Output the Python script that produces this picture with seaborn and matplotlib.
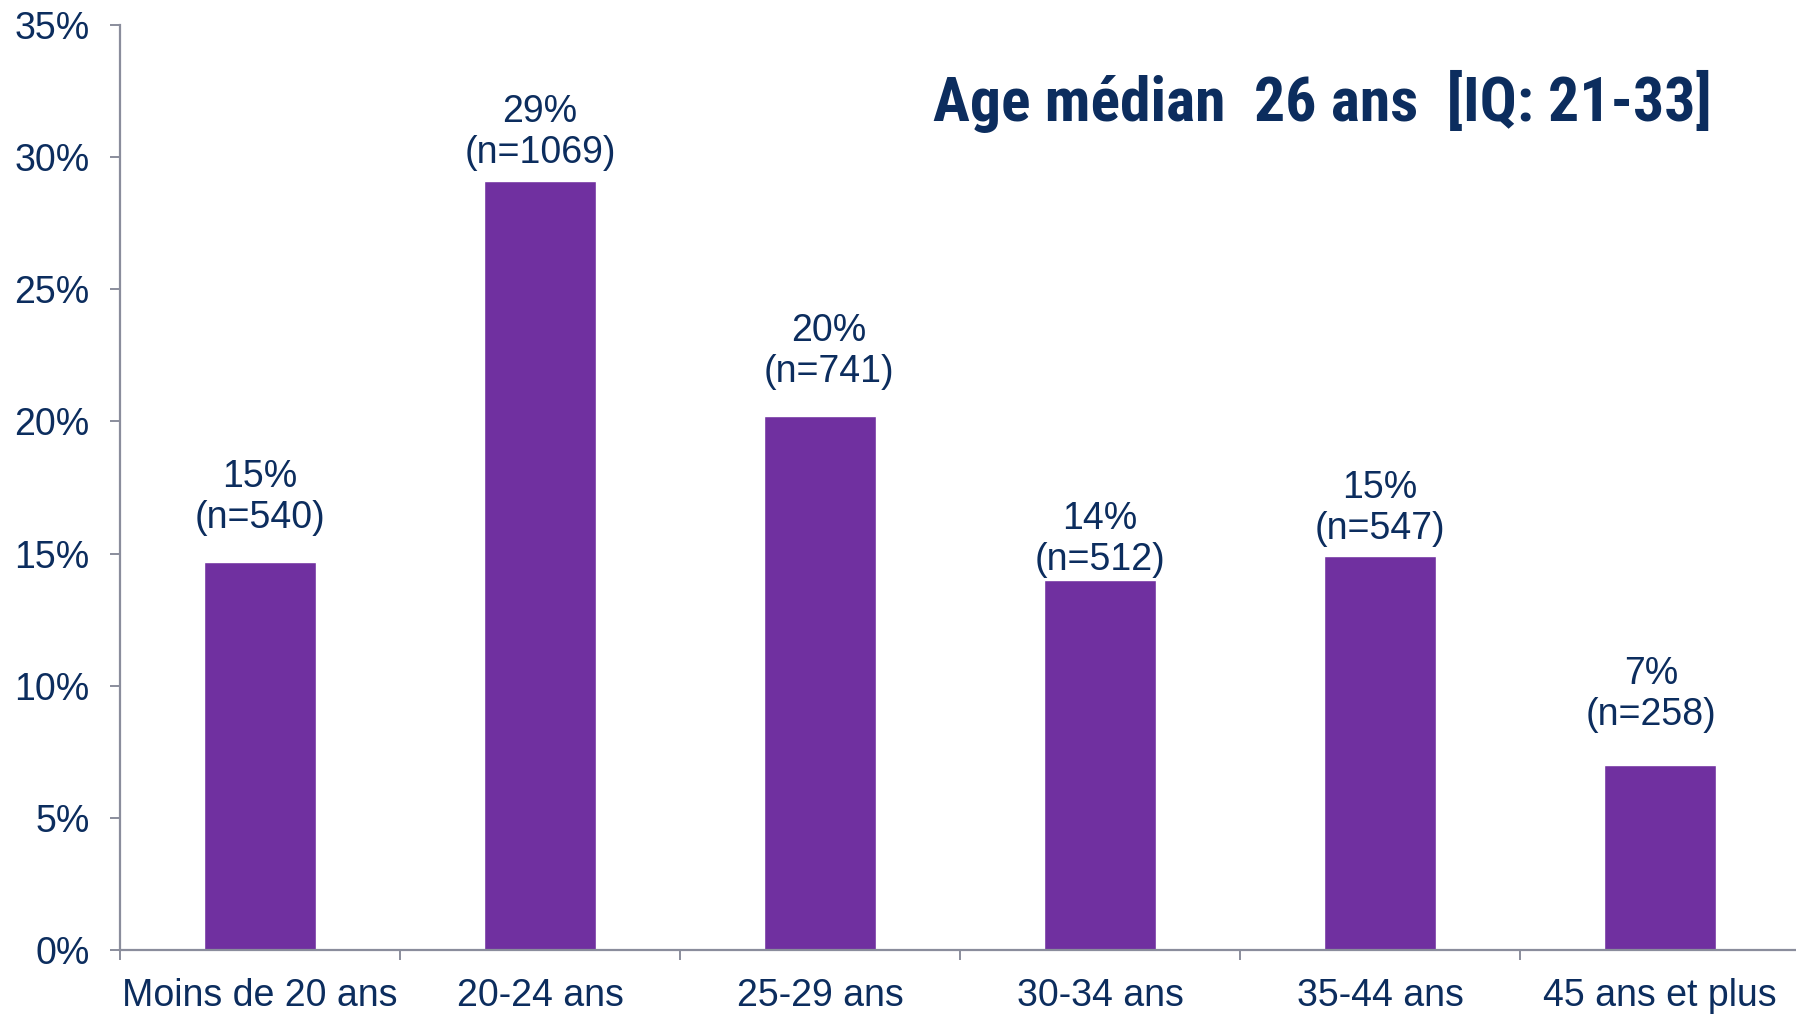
import matplotlib
matplotlib.use("Agg")
import matplotlib.pyplot as plt
import seaborn as sns
import pandas as pd
from matplotlib.ticker import FixedLocator, PercentFormatter
from matplotlib import font_manager

categories = ["Moins de 20 ans", "20-24 ans", "25-29 ans", "30-34 ans", "35-44 ans", "45 ans et plus"]
values = [14.7, 29.1, 20.2, 14.0, 14.9, 7.0]
pct_labels = ["15%", "29%", "20%", "14%", "15%", "7%"]
n_labels = ["(n=540)", "(n=1069)", "(n=741)", "(n=512)", "(n=547)", "(n=258)"]
y_ticks = [0, 5, 10, 15, 20, 25, 30, 35]
title = "Age médian  26 ans  [IQ: 21-33]"

# layout: label offsets (points) as placed in the original
label_dx = [0, 0, 6.6, 0, 0, -6.6]
label_dy = [18.2, 7.5, 19, 1.7, 6.6, 23.1]

NAVY = "#0C2D5E"
PURPLE = "#7030A0"
GREY = "#8A8D9C"

sns.set_theme(style="white")
plt.rcParams['font.family'] = ['Liberation Sans', 'DejaVu Sans']

installed = {f.name for f in font_manager.fontManager.ttflist}
narrow = None
for cand in ["Liberation Sans Narrow", "Roboto Condensed", "Open Sans Condensed", "Arial Narrow", "DejaVu Sans Condensed"]:
    if cand in installed:
        narrow = cand
        break

df = pd.DataFrame({"cat": categories, "val": values})

W, H = 1796, 1015
fig = plt.figure(figsize=(W / 100, H / 100), dpi=100)
ax = fig.add_axes([120 / W, (H - 950) / H, (1800 - 120) / W, (950 - 25) / H])

sns.barplot(data=df, x="cat", y="val", color=PURPLE, width=0.4, saturation=1, ax=ax)

ax.set_xlim(-0.5, 5.5)
ax.set_ylim(0, 35)
ax.yaxis.set_major_locator(FixedLocator(y_ticks))
ax.yaxis.set_major_formatter(PercentFormatter(decimals=0))
ax.set_xlabel("")
ax.set_ylabel("")

for s in ["top", "right"]:
    ax.spines[s].set_visible(False)
for s in ["left", "bottom"]:
    ax.spines[s].set_color(GREY)
    ax.spines[s].set_linewidth(1.6)

ax.tick_params(axis="y", which="major", direction="out", length=7.2, width=1.4,
               color=GREY, labelsize=27, labelcolor=NAVY, pad=14.5, left=True)
ax.tick_params(axis="x", which="major", length=0, labelsize=27, labelcolor=NAVY, pad=20)
ax.xaxis.set_minor_locator(FixedLocator([-0.5, 0.5, 1.5, 2.5, 3.5, 4.5]))
ax.tick_params(axis="x", which="minor", direction="out", length=7.2, width=1.4,
               color=GREY, bottom=True)

for i, (v, p, n) in enumerate(zip(values, pct_labels, n_labels)):
    ax.annotate(f"{p}\n{n}", xy=(i, v), xytext=(label_dx[i], label_dy[i]), textcoords="offset points",
                ha="center", va="bottom", fontsize=27, color=NAVY, linespacing=1.17)

if narrow:
    fig.text(1322 / W, 1 - 101 / H, title, ha="center", va="center",
             fontsize=44.4, fontweight="bold", color=NAVY, family=[narrow, 'DejaVu Sans'])
else:
    fig.text(1322 / W, 1 - 101 / H, title, ha="center", va="center",
             fontsize=39, fontweight="bold", color=NAVY, family=['Liberation Sans', 'DejaVu Sans'])

fig.savefig("out.png", dpi=100)
